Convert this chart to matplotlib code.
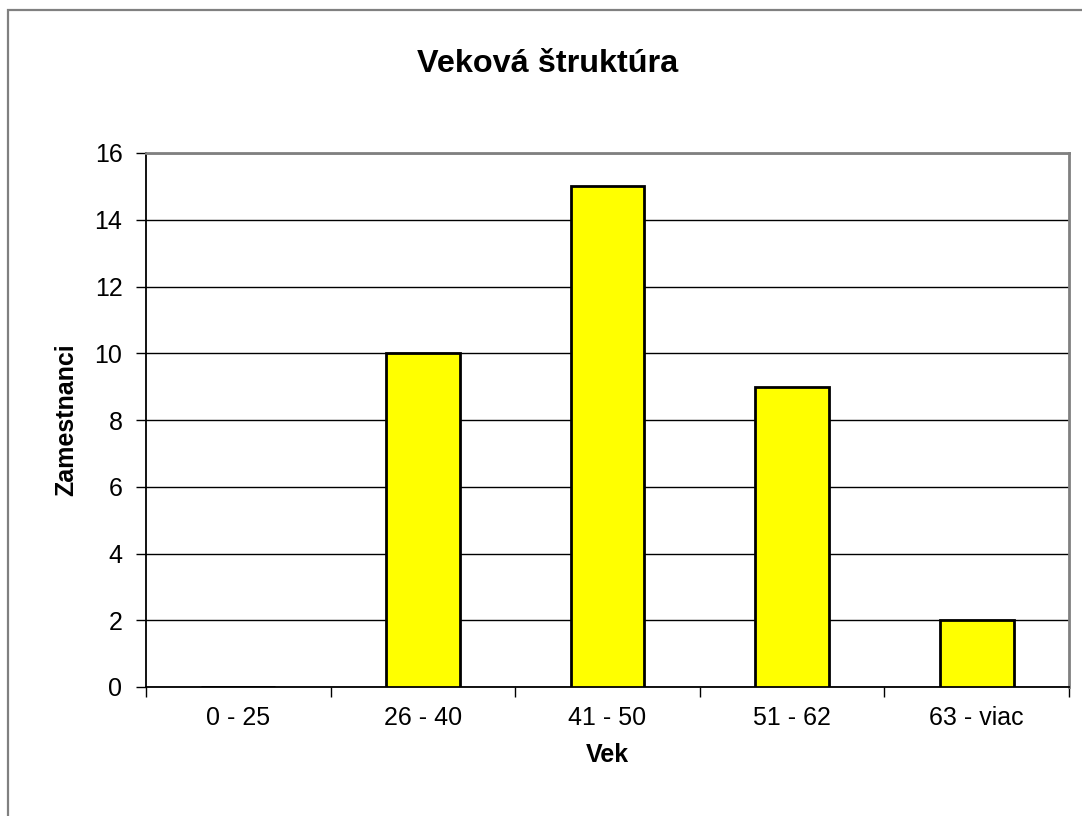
import matplotlib
matplotlib.use("Agg")
import matplotlib.pyplot as plt
from matplotlib.patches import Rectangle
import numpy as np

categories = ["0 - 25", "26 - 40", "41 - 50", "51 - 62", "63 - viac"]
values = [0, 10, 15, 9, 2]
yticks = [0, 2, 4, 6, 8, 10, 12, 14, 16]

plt.rcParams['font.family'] = ['Liberation Sans', 'DejaVu Sans']

W, H = 1082, 816
fig = plt.figure(figsize=(W / 100, H / 100), dpi=100)

# outer chart frame (left/top visible)
fig.patches.append(Rectangle((8 / W, -0.1), 1.2, 1 - 10 / H + 0.1, transform=fig.transFigure,
                             fill=False, edgecolor='#808080', linewidth=1.6, zorder=0))

ax = fig.add_axes([146 / W, 1 - 687 / H, (1069 - 146) / W, (687 - 153) / H])
x = np.arange(len(categories))
ax.bar(x, values, width=0.4, color='#FFFF00', edgecolor='black', linewidth=2, zorder=3)

ax.set_xlim(-0.5, len(categories) - 0.5)
ax.set_ylim(0, 16)
ax.set_yticks(yticks)
ax.set_yticklabels([str(t) for t in yticks], fontsize=18)
ax.yaxis.grid(True, color='black', linewidth=1)
ax.set_axisbelow(True)

ax.set_xticks(x)
ax.set_xticklabels(categories, fontsize=18)
ax.tick_params(axis='x', which='major', length=0, pad=14)
ax.set_xticks(np.arange(-0.5, len(categories), 1.0), minor=True)
ax.tick_params(axis='x', which='minor', length=7, width=1, direction='out')
ax.tick_params(axis='y', length=7, width=1, direction='out', pad=10)

for s in ['left', 'bottom']:
    ax.spines[s].set_color('black')
    ax.spines[s].set_linewidth(1.3)
for s in ['top', 'right']:
    ax.spines[s].set_color('#808080')
    ax.spines[s].set_linewidth(2)

ax.set_xlabel("Vek", fontsize=18, fontweight='bold', labelpad=9)
ax.set_ylabel("Zamestnanci", fontsize=18, fontweight='bold', labelpad=12)
fig.text(548 / W, 1 - 64 / H, "Veková štruktúra", fontsize=23.3, fontweight='bold',
         ha='center', va='center')

fig.savefig("out.png", dpi=100)
